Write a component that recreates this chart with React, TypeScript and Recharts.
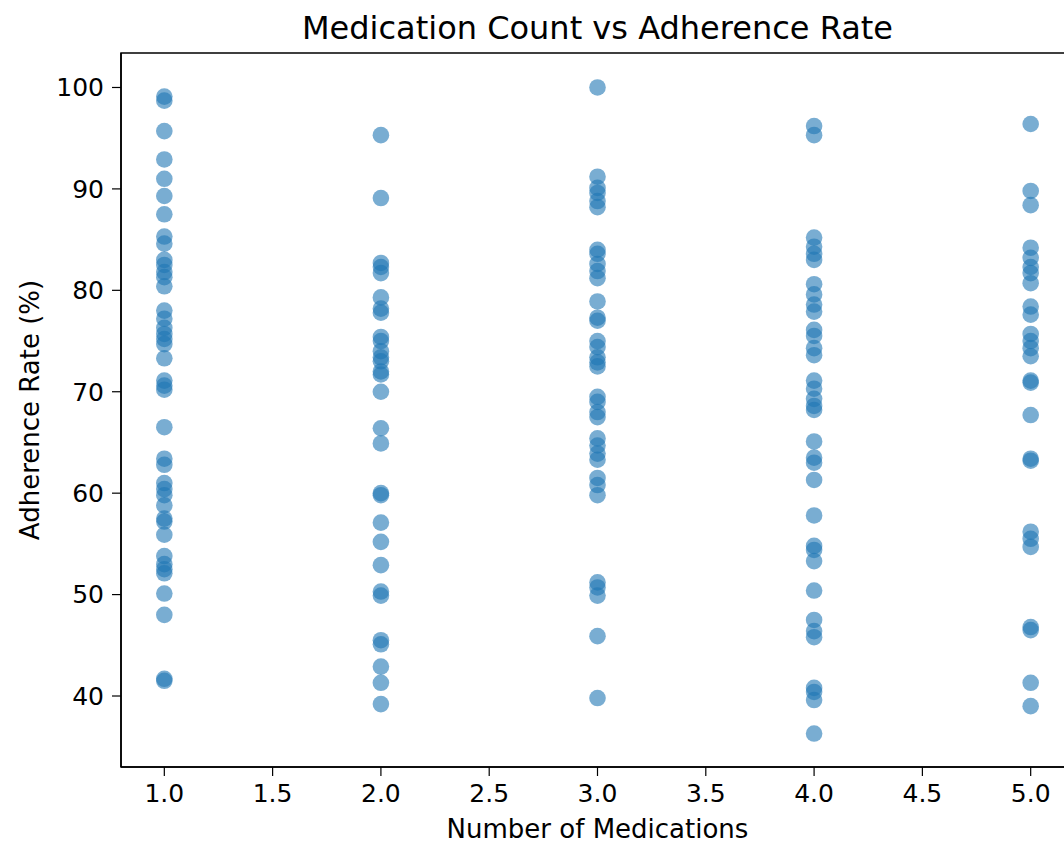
import React from 'react';
import { ScatterChart, Scatter, XAxis, YAxis, ReferenceArea } from 'recharts';

const medicationCounts = [1, 2, 3, 4, 5];
const adherence1 = [99.1, 98.7, 95.7, 92.9, 91.0, 89.3, 87.5, 85.3, 84.6, 83.0, 82.5, 81.8, 81.3, 80.4, 78.0, 77.2, 76.3, 75.7, 75.2, 74.7, 73.3, 71.1, 70.6, 70.2, 66.5, 63.4, 62.8, 61.0, 60.4, 59.8, 58.8, 57.5, 57.2, 55.9, 53.8, 53.0, 52.5, 52.1, 50.1, 48.0, 41.7, 41.5];
const adherence2 = [95.3, 89.1, 82.7, 82.3, 81.7, 79.3, 78.2, 77.8, 75.4, 75.0, 74.0, 73.4, 73.0, 72.0, 71.7, 70.0, 66.4, 64.9, 60.0, 59.8, 57.1, 55.2, 52.9, 50.3, 49.9, 45.5, 45.1, 42.9, 41.3, 39.2];
const adherence3 = [100.0, 91.2, 90.1, 89.6, 88.8, 88.2, 84.0, 83.6, 82.6, 81.9, 81.2, 78.9, 77.3, 77.0, 75.0, 74.4, 73.4, 72.9, 72.5, 69.5, 69.0, 68.0, 67.5, 65.4, 64.7, 63.9, 63.3, 61.5, 60.8, 59.8, 51.2, 50.7, 49.9, 45.9, 39.8];
const adherence4 = [96.2, 95.3, 85.2, 84.3, 83.6, 83.0, 80.6, 79.6, 78.6, 77.9, 76.1, 75.5, 74.3, 73.6, 71.1, 70.3, 69.3, 68.6, 68.2, 65.1, 63.5, 63.0, 61.3, 57.8, 54.8, 54.4, 53.3, 50.4, 47.5, 46.4, 45.8, 40.8, 40.4, 39.6, 36.3];
const adherence5 = [96.4, 89.8, 88.4, 84.2, 83.2, 82.3, 81.7, 80.7, 78.4, 77.6, 75.7, 75.0, 74.3, 73.5, 71.1, 70.9, 67.7, 63.4, 63.2, 56.2, 55.5, 54.7, 46.8, 46.5, 41.3, 39.0];
const xTicks = [1.0, 1.5, 2.0, 2.5, 3.0, 3.5, 4.0, 4.5, 5.0];
const yTicks = [40, 50, 60, 70, 80, 90, 100];

const allSeries = [adherence1, adherence2, adherence3, adherence4, adherence5];
const data = allSeries.flatMap((vals, i) => vals.map((v) => ({ meds: medicationCounts[i], rate: v })));

const FONT = '"DejaVu Sans", sans-serif';

const Dot = (props: any) => (
  <circle cx={props.cx} cy={props.cy} r={8.3} fill="#1f77b4" fillOpacity={0.6} stroke="none" />
);

export default function App() {
  return (
    <div style={{ position: 'fixed', left: 0, top: 0, width: 1064, height: 845, overflow: 'hidden', background: '#fff' }}>
      <div
        style={{
          position: 'absolute',
          left: 121,
          width: 953,
          top: 8,
          textAlign: 'center',
          fontFamily: FONT,
          fontSize: 32,
          color: '#000',
          lineHeight: '40px',
        }}
      >
        Medication Count vs Adherence Rate
      </div>
      <div style={{ position: 'absolute', left: 0, top: 0 }}>
        <ScatterChart width={1100} height={845} margin={{ top: 53, right: 26, bottom: 0, left: 0 }}>
          <ReferenceArea
            x1={0.8}
            x2={5.2}
            y1={33.0}
            y2={103.4}
            fill="none"
            stroke="#000"
            strokeWidth={1.5}
            ifOverflow="visible"
          />
          <XAxis
            type="number"
            dataKey="meds"
            domain={[0.8, 5.2]}
            ticks={xTicks}
            tickFormatter={(v: number) => v.toFixed(1)}
            allowDataOverflow
            height={78}
            tickSize={9}
            tickMargin={8}
            axisLine={{ stroke: '#000', strokeWidth: 1.5 }}
            tickLine={{ stroke: '#000', strokeWidth: 1.2 }}
            tick={{ fill: '#000', fontFamily: FONT, fontSize: 25 }}
            label={{
              content: (p: any) => {
                const vb = p.viewBox || {};
                return (
                  <text
                    x={vb.x + vb.width / 2}
                    y={829}
                    textAnchor="middle"
                    dominantBaseline="central"
                    fontFamily={FONT}
                    fontSize={26}
                    fill="#000"
                  >
                    Number of Medications
                  </text>
                );
              },
            }}
          />
          <YAxis
            type="number"
            dataKey="rate"
            domain={[33.0, 103.4]}
            ticks={yTicks}
            allowDataOverflow
            width={121}
            tickSize={9}
            tickMargin={8}
            axisLine={{ stroke: '#000', strokeWidth: 1.5 }}
            tickLine={{ stroke: '#000', strokeWidth: 1.2 }}
            tick={{ fill: '#000', fontFamily: FONT, fontSize: 25 }}
            label={{
              content: (p: any) => {
                const vb = p.viewBox || {};
                const cy = vb.y + vb.height / 2;
                return (
                  <text
                    x={30}
                    y={cy}
                    transform={`rotate(-90, 30, ${cy})`}
                    textAnchor="middle"
                    dominantBaseline="central"
                    fontFamily={FONT}
                    fontSize={26}
                    fill="#000"
                  >
                    Adherence Rate (%)
                  </text>
                );
              },
            }}
          />
          <Scatter data={data} shape={Dot} isAnimationActive={false} />
        </ScatterChart>
      </div>
    </div>
  );
}
